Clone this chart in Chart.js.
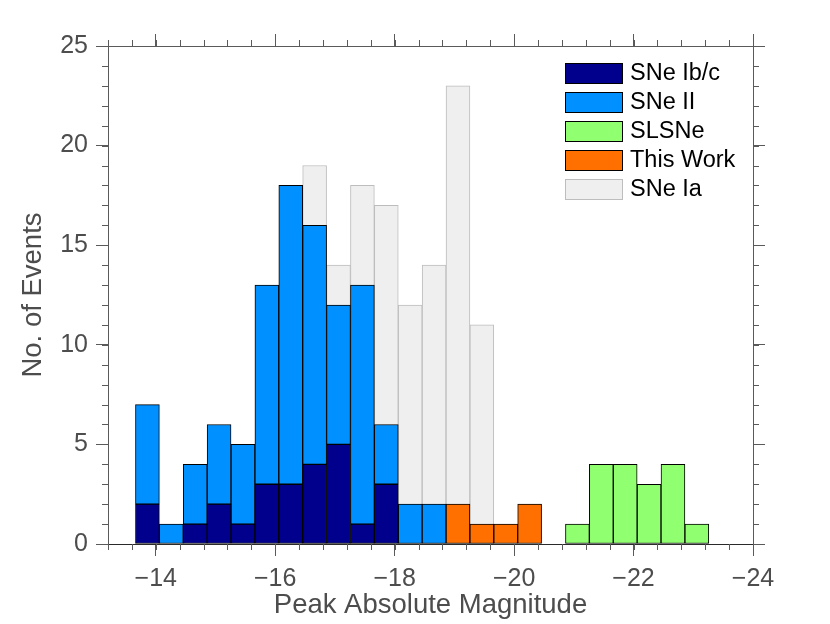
<!DOCTYPE html>
<html>
<head>
<meta charset="utf-8">
<script src="https://cdn.jsdelivr.net/npm/chart.js@4.4.1/dist/chart.umd.min.js"></script>
<style>
  html, body { margin: 0; padding: 0; background: #fff; }
  #wrap { width: 830px; height: 624px; }
</style>
</head>
<body>
<div id="wrap"><canvas id="histo" width="830" height="624"></canvas></div>
<script>
// centros de los bins (magnitud, ancho 0.4)
const binCenters = [-13.86, -14.26, -14.66, -15.06, -15.46, -15.86, -16.26, -16.66, -17.06, -17.46, -17.86, -18.26,
                    -18.66, -19.06, -19.46, -19.86, -20.26, -20.66, -21.06, -21.46, -21.86, -22.26, -22.66, -23.06];
const snIbc     = [2, null, 1, 2, 1, 3, 3, 4, 5, 1, 3, null, null, null, null, null, null, null, null, null, null, null, null, null];
const snII      = [5, 1, 3, 4, 4, 10, 15, 12, 7, 12, 3, 2, 2, null, null, null, null, null, null, null, null, null, null, null];
const slsne     = [null, null, null, null, null, null, null, null, null, null, null, null, null, null, null, null, null, null, 1, 4, 4, 3, 4, 1];
const thisWork  = [null, null, null, null, null, null, null, null, null, null, null, null, null, 2, 1, 1, 2, null, null, null, null, null, null, null];
const snIa      = [null, null, null, null, null, null, null, 19, 14, 18, 17, 12, 14, 23, 11, null, null, null, null, null, null, null, null, null];
const xTicks = [-14, -16, -18, -20, -22, -24];
const yTicks = [0, 5, 10, 15, 20, 25];

const axisGray = '#5a5a5a';
const textGray = '#4d4d4d';

function puntos(valores) {
  return binCenters.map((x, i) => ({ x: x, y: valores[i] }));
}

function serie(label, valores, fondo, borde, pila) {
  return {
    label: label,
    data: puntos(valores),
    backgroundColor: fondo,
    borderColor: borde,
    borderWidth: 1,
    borderSkipped: false,
    stack: pila,
    grouped: false,
    barPercentage: 1,
    categoryPercentage: 1
  };
}

const ctx = document.getElementById('histo').getContext('2d');

/* ticks menores en los cuatro lados */
const minorTicks = {
  id: 'minorTicks',
  afterDraw(chart) {
    const c = chart.ctx;
    const a = chart.chartArea;
    const sx = chart.scales.x;
    const sy = chart.scales.y;
    c.save();
    c.strokeStyle = axisGray;
    c.lineWidth = 1;
    c.beginPath();
    for (let v = -13.2; v >= -24.001; v -= 0.4) {
      const px = Math.round(sx.getPixelForValue(v)) + 0.5;
      c.moveTo(px, a.bottom); c.lineTo(px, a.bottom + 6);
      c.moveTo(px, a.top); c.lineTo(px, a.top - 6);
    }
    for (let v = 0; v <= 25; v += 1) {
      const py = Math.round(sy.getPixelForValue(v)) + 0.5;
      c.moveTo(a.left, py); c.lineTo(a.left - 6, py);
      c.moveTo(a.right, py); c.lineTo(a.right + 6, py);
    }
    c.stroke();
    c.restore();
  }
};

/* leyenda dentro del area del grafico */
const legendaInterna = {
  id: 'legendaInterna',
  afterDraw(chart) {
    const c = chart.ctx;
    const a = chart.chartArea;
    const x0 = a.right - 188;
    let y0 = a.top + 17;
    c.save();
    c.font = '23.5px "Liberation Sans", Arial, sans-serif';
    c.textBaseline = 'middle';
    chart.data.datasets.forEach((ds) => {
      c.fillStyle = ds.borderColor;
      c.fillRect(x0, y0, 58, 21);
      c.fillStyle = ds.backgroundColor;
      c.fillRect(x0 + 1, y0 + 1, 56, 19);
      c.fillStyle = '#000';
      c.fillText(ds.label, x0 + 65, y0 + 11);
      y0 += 29;
    });
    c.restore();
  }
};

const tickFont = { family: '"Liberation Sans", Arial, sans-serif', size: 25 };
const titleFont = { family: '"Liberation Sans", Arial, sans-serif', size: 27.5 };

function ejeX(pos, conEtiquetas) {
  return {
    type: 'linear',
    position: pos,
    min: -24,
    max: -13.2,
    reverse: true,
    offset: false,
    afterBuildTicks: (s) => { s.ticks = xTicks.map(v => ({ value: v })); },
    afterFit: (s) => { s.height = pos === 'bottom' ? 80 : 46; },
    grid: { drawOnChartArea: false, drawTicks: true, tickLength: 12, color: axisGray, offset: false },
    border: { display: true, color: pos === 'bottom' ? '#2a2a2a' : axisGray, width: 1 },
    ticks: {
      display: conEtiquetas,
      color: textGray,
      font: tickFont,
      padding: 8,
      maxRotation: 0,
      callback: (v) => (v < 0 ? '\u2212' : '') + Math.abs(v)
    },
    title: {
      display: conEtiquetas,
      text: 'Peak Absolute Magnitude',
      color: textGray,
      font: titleFont,
      padding: { top: 0, bottom: 2 }
    }
  };
}

function ejeY(pos, conEtiquetas) {
  return {
    type: 'linear',
    position: pos,
    min: 0,
    max: 25,
    stacked: true,
    afterBuildTicks: (s) => { s.ticks = yTicks.map(v => ({ value: v })); },
    afterFit: (s) => { s.width = pos === 'left' ? 108 : 77; },
    grid: { drawOnChartArea: false, drawTicks: true, tickLength: 12, color: axisGray },
    border: { display: true, color: axisGray, width: 1 },
    ticks: { display: conEtiquetas, color: textGray, font: tickFont, padding: 8 },
    title: {
      display: conEtiquetas,
      text: 'No. of Events',
      color: textGray,
      font: titleFont,
      padding: { top: 17, bottom: 0 }
    }
  };
}

new Chart(ctx, {
  type: 'bar',
  data: {
    datasets: [
      serie('SNe Ib/c', snIbc, '#00008c', '#000000', 'sn'),
      serie('SNe II', snII, '#0090ff', '#000000', 'sn'),
      serie('SLSNe', slsne, '#90ff70', '#000000', 'sn'),
      serie('This Work', thisWork, '#ff7000', '#000000', 'sn'),
      serie('SNe Ia', snIa, '#efefef', '#bdbdbd', 'ia')
    ]
  },
  options: {
    responsive: false,
    animation: false,
    layout: { padding: 0 },
    plugins: {
      legend: { display: false },
      tooltip: { enabled: false }
    },
    scales: {
      x: ejeX('bottom', true),
      x2: ejeX('top', false),
      y: ejeY('left', true),
      y2: ejeY('right', false)
    }
  },
  plugins: [minorTicks, legendaInterna]
});
</script>
</body>
</html>
